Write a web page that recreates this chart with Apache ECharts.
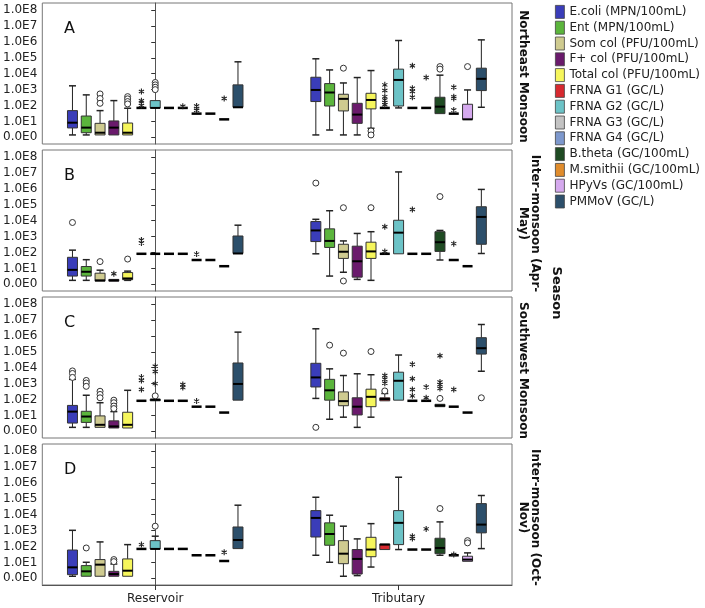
<!DOCTYPE html>
<html><head><meta charset="utf-8">
<script src="https://cdn.jsdelivr.net/npm/echarts@6/dist/echarts.min.js"></script>
<style>html,body{margin:0;padding:0;background:#fff}#c{width:705px;height:608px}</style>
</head><body><div id="c"></div>
<script>
// ---------- data (values in log10 units; 0 = 0.0E0) ----------
const categories = ['Reservoir', 'Tributary'];
const seriesNames = ['E.coli (MPN/100mL)', 'Ent (MPN/100mL)', 'Som col (PFU/100mL)', 'F+ col (PFU/100mL)',
  'Total col (PFU/100mL)', 'FRNA G1 (GC/L)', 'FRNA G2 (GC/L)', 'FRNA G3 (GC/L)', 'FRNA G4 (GC/L)',
  'B.theta (GC/100mL)', 'M.smithii (GC/100mL)', 'HPyVs (GC/100mL)', 'PMMoV (GC/L)'];
const seriesColors = ['#3a3db9', '#5bb53c', '#cfcb90', '#6a1a6c', '#f6f65c', '#d7292f', '#6cc3c7',
  '#c3c3c3', '#7d98cd', '#1f4b23', '#e08c2c', '#d5a9ee', '#2c4f6b'];
const yTicks = [0, 1, 2, 3, 4, 5, 6, 7, 8];
const panelLetters = ['A', 'B', 'C', 'D'];
const seasonLabels = ['Northeast Monsoon', 'Inter-monsoon (Apr-\nMay)', 'Southwest Monsoon', 'Inter-monsoon (Oct-\nNov)'];

// box stats per series: [min, Q1, median, Q3, max]
const A_res = [[0.15,0.59,0.92,1.68,3.24],[0.15,0.29,0.61,1.34,2.67],[0.15,0.15,0.29,0.88,1.68],[0.15,0.15,0.61,1.03,2.31],
  [0.15,0.15,0.29,0.90,1.83],[1.85,1.85,1.85,1.85,1.85],[1.85,1.85,1.85,2.31,2.31],[1.85,1.85,1.85,1.85,1.85],
  [1.85,1.85,1.85,1.85,1.85],[1.49,1.49,1.49,1.49,1.49],[1.49,1.49,1.49,1.49,1.49],[1.13,1.13,1.13,1.13,1.13],
  [1.89,1.89,1.89,3.30,4.75]];
const A_trib = [[0.15,2.25,2.98,3.78,4.94],[0.46,1.97,2.82,3.38,4.24],[0.15,1.66,2.42,2.71,3.42],[0.15,0.88,1.43,2.14,3.76],
  [0.57,1.79,2.35,2.77,4.20],[1.85,1.85,1.85,1.85,1.85],[1.85,1.97,3.61,4.29,6.09],[1.85,1.85,1.85,1.85,1.85],
  [1.85,1.85,1.85,1.85,1.85],[1.49,1.49,1.93,2.52,3.91],[1.49,1.49,1.49,1.49,1.49],[1.13,1.13,1.13,2.08,2.98],
  [1.89,2.94,3.68,4.35,6.13]];
const B_res = [[0.25,0.52,0.91,1.70,2.15],[0.25,0.52,0.79,1.12,1.55],[0.20,0.20,0.25,0.70,0.89],[0.20,0.20,0.25,0.31,0.31],
  [0.25,0.29,0.37,0.74,0.83],[1.92,1.92,1.92,1.92,1.92],[1.92,1.92,1.92,1.92,1.92],[1.92,1.92,1.92,1.92,1.92],
  [1.92,1.92,1.92,1.92,1.92],[1.53,1.53,1.53,1.53,1.53],[1.53,1.53,1.53,1.53,1.53],[1.14,1.14,1.14,1.14,1.14],
  [1.94,1.94,1.94,3.04,3.72]];
const B_trib = [[1.92,2.69,3.39,3.95,4.09],[0.52,2.32,2.73,3.49,4.63],[0.76,1.63,2.05,2.52,2.73],[0.31,0.45,1.45,2.40,3.20],
  [0.25,1.63,2.07,2.65,3.31],[1.92,1.92,1.92,1.92,1.92],[1.92,1.92,3.25,4.03,7.07],[1.92,1.92,1.92,1.92,1.92],
  [1.92,1.92,1.92,1.92,1.92],[1.53,2.07,2.65,3.31,3.39],[1.53,1.53,1.53,1.53,1.53],[1.14,1.14,1.14,1.14,1.14],
  [1.94,2.52,4.24,4.88,5.97]];
const C_res = [[0.25,0.52,1.24,1.63,3.27],[0.25,0.56,0.93,1.26,2.27],[0.25,0.25,0.41,0.97,1.80],[0.21,0.21,0.31,0.66,1.24],
  [0.21,0.21,0.41,1.20,2.58],[1.92,1.92,1.92,1.92,1.92],[1.92,1.92,1.98,2.03,2.03],[1.92,1.92,1.92,1.92,1.92],
  [1.92,1.92,1.92,1.92,1.92],[1.55,1.55,1.55,1.55,1.55],[1.55,1.55,1.55,1.55,1.55],[1.18,1.18,1.18,1.18,1.18],
  [1.96,1.96,2.98,4.30,6.24]];
const C_trib = [[2.07,2.79,3.39,4.28,6.45],[0.76,1.96,2.58,3.27,3.93],[0.89,1.61,1.90,2.48,3.51],[0.25,1.03,1.55,2.11,3.62],
  [0.89,1.55,2.17,2.65,3.56],[1.92,1.92,2.03,2.11,2.38],[1.96,1.96,3.18,3.72,4.80],[1.92,1.92,1.92,1.92,1.92],
  [1.92,1.92,1.92,1.92,1.92],[1.55,1.55,1.62,1.70,1.70],[1.55,1.55,1.55,1.55,1.55],[1.18,1.18,1.18,1.18,1.18],
  [3.78,4.86,5.23,5.89,6.72]];
const D_res = [[0.13,0.23,0.69,1.78,3.02],[0.13,0.13,0.44,0.80,1.01],[0.13,0.13,0.86,1.18,2.29],[0.13,0.13,0.27,0.44,0.90],
  [0.13,0.13,0.48,1.22,2.12],[1.85,1.85,1.85,1.85,1.85],[1.85,1.85,1.85,2.37,2.65],[1.85,1.85,1.85,1.85,1.85],
  [1.85,1.85,1.85,1.85,1.85],[1.45,1.45,1.45,1.45,1.45],[1.45,1.45,1.45,1.45,1.45],[1.09,1.09,1.09,1.09,1.09],
  [1.87,1.87,2.41,3.23,4.60]];
const D_trib = [[1.45,2.60,3.80,4.26,5.10],[1.01,2.08,2.79,3.49,3.97],[0.13,0.92,1.55,2.37,3.28],[0.17,0.27,1.22,1.81,2.48],
  [0.71,1.36,1.81,2.58,3.44],[1.81,1.81,2.12,2.16,2.16],[1.81,2.12,3.49,4.26,6.36],[1.81,1.81,1.81,1.81,1.81],
  [1.81,1.81,1.81,1.81,1.81],[1.45,1.55,1.91,2.52,3.55],[1.45,1.45,1.45,1.45,1.45],[1.07,1.07,1.18,1.39,1.60],
  [1.87,2.86,3.38,4.70,5.21]];

// outliers: [series index, value, 'o' = outlier circle, '*' = extreme]
const A_res_out = [[2,2.73,'o'],[2,2.44,'o'],[2,2.14,'o'],[4,2.56,'o'],[4,2.42,'o'],[4,2.25,'o'],[4,2.10,'o'],
  [5,2.88,'*'],[5,2.30,'*'],[5,2.15,'*'],[5,2.00,'*'],[6,3.45,'o'],[6,3.30,'o'],[6,3.15,'o'],[6,3.00,'o'],
  [8,1.95,'*'],[9,1.97,'*'],[9,1.82,'*'],[9,1.70,'*'],[11,2.44,'*']];
const A_trib_out = [[2,4.35,'o'],[4,0.40,'o'],[4,0.15,'o'],[5,3.30,'*'],[5,2.94,'*'],[5,2.56,'*'],[5,2.35,'*'],
  [5,2.20,'*'],[5,2.05,'*'],[7,4.50,'*'],[7,3.09,'*'],[7,2.88,'*'],[7,2.52,'*'],[8,3.76,'*'],[9,4.45,'o'],
  [9,4.29,'o'],[10,3.15,'*'],[10,2.56,'*'],[10,2.45,'*'],[10,1.72,'*'],[11,4.45,'o']];
const B_res_out = [[0,3.89,'o'],[2,1.43,'o'],[3,0.66,'*'],[4,1.59,'o'],[5,2.79,'*'],[5,2.60,'*'],[9,1.90,'*']];
const B_trib_out = [[0,6.37,'o'],[2,4.82,'o'],[2,0.21,'o'],[4,4.82,'o'],[5,3.62,'*'],[5,2.07,'*'],[7,4.71,'*'],
  [9,5.52,'o'],[10,2.56,'*']];
const C_res_out = [[0,3.80,'o'],[0,3.64,'o'],[0,3.39,'o'],[1,3.20,'o'],[1,3.04,'o'],[1,2.83,'o'],[2,2.52,'o'],
  [2,2.32,'o'],[2,2.11,'o'],[3,1.96,'o'],[3,1.80,'o'],[3,1.59,'o'],[3,1.43,'o'],[5,3.41,'*'],[5,3.20,'*'],
  [5,2.63,'*'],[6,2.23,'o'],[6,4.09,'*'],[6,3.76,'*'],[6,3.00,'*'],[8,2.94,'*'],[8,2.75,'*'],[9,1.90,'*']];
const C_trib_out = [[0,0.25,'o'],[1,5.42,'o'],[2,4.92,'o'],[4,5.02,'o'],[5,2.54,'o'],[5,3.51,'*'],[5,3.27,'*'],
  [5,3.02,'*'],[7,4.22,'*'],[7,3.31,'*'],[7,2.63,'*'],[7,2.23,'*'],[8,2.79,'*'],[8,2.11,'*'],[9,4.75,'*'],
  [9,3.10,'*'],[9,2.94,'*'],[9,2.69,'*'],[9,2.07,'o'],[10,2.63,'*'],[12,2.11,'o']];
const D_res_out = [[1,1.91,'o'],[3,1.18,'o'],[3,1.05,'o'],[5,2.12,'*'],[6,3.28,'o'],[11,1.64,'*']];
const D_trib_out = [[7,2.65,'*'],[7,2.50,'*'],[8,3.11,'*'],[9,4.39,'o'],[10,1.50,'*'],[11,2.37,'o'],[11,2.23,'o']];

// ---------- build chart ----------
const panels = [
  {res: A_res, trib: A_trib, resOut: A_res_out, tribOut: A_trib_out},
  {res: B_res, trib: B_trib, resOut: B_res_out, tribOut: B_trib_out},
  {res: C_res, trib: C_trib, resOut: C_res_out, tribOut: C_trib_out},
  {res: D_res, trib: D_trib, resOut: D_res_out, tribOut: D_trib_out}
];
const FONT = 'DejaVu Sans';
const UNIT_PX = 243.5;            // reference spacing between categories
const SPACING = 13.8 / UNIT_PX;   // box-to-box step as fraction of category unit
const BOXW = 10 / UNIT_PX;
const CAPW = 7 / UNIT_PX;
const NMID = (seriesNames.length - 1) / 2;

function boxRender(sIdx) {
  return function (params, api) {
    const cat = api.value(0);
    const unit = api.size([1, 0])[0];
    const hw = BOXW * unit / 2, cw = CAPW * unit / 2;
    const x = api.coord([cat, 0])[0] + (sIdx - NMID) * SPACING * unit;
    const Y = v => api.coord([cat, v])[1];
    const mn = api.value(1), q1 = api.value(2), md = api.value(3), q3 = api.value(4), mx = api.value(5);
    const ls = {stroke: '#222', lineWidth: 1};
    const ch = [];
    if (mn < q1) {
      ch.push({type: 'line', shape: {x1: x, y1: Y(mn), x2: x, y2: Y(q1)}, style: ls});
      ch.push({type: 'line', shape: {x1: x - cw, y1: Y(mn), x2: x + cw, y2: Y(mn)}, style: {stroke: '#222', lineWidth: 1.5}});
    }
    if (mx > q3) {
      ch.push({type: 'line', shape: {x1: x, y1: Y(q3), x2: x, y2: Y(mx)}, style: ls});
      ch.push({type: 'line', shape: {x1: x - cw, y1: Y(mx), x2: x + cw, y2: Y(mx)}, style: {stroke: '#222', lineWidth: 1.5}});
    }
    if (q3 > q1) {
      ch.push({type: 'rect', shape: {x: x - hw, y: Y(q3), width: 2 * hw, height: Y(q1) - Y(q3)},
        style: {fill: seriesColors[sIdx], stroke: '#333', lineWidth: 1}});
    }
    ch.push({type: 'line', shape: {x1: x - hw, y1: Y(md), x2: x + hw, y2: Y(md)},
      style: {stroke: '#000', lineWidth: q3 > q1 ? 2 : 2.5}});
    return {type: 'group', children: ch};
  };
}

function outRender(params, api) {
  const cat = api.value(0), v = api.value(1), sIdx = api.value(2), kind = api.value(3);
  const unit = api.size([1, 0])[0];
  const p = api.coord([cat, v]);
  const x = p[0] + (sIdx - NMID) * SPACING * unit, y = p[1];
  if (kind === 0) {
    return {type: 'circle', shape: {cx: x, cy: y, r: 3}, style: {fill: '#fff', stroke: '#333', lineWidth: 1}};
  }
  return {type: 'path', x: x, y: y,
    shape: {pathData: 'M0,-3L0,3M-2.6,-1.5L2.6,1.5M-2.6,1.5L2.6,-1.5'},
    style: {fill: null, stroke: '#222', lineWidth: 1.1}};
}

const grids = [], xAxes = [], yAxes = [], series = [], graphics = [];
const gTop = i => 3 + i * 147, gH = 141;
panels.forEach((p, i) => {
  const last = i === panels.length - 1;
  grids.push({left: 42, width: 470, top: gTop(i), height: gH, show: true, borderColor: '#777', borderWidth: 1, backgroundColor: '#fff'});
  xAxes.push({type: 'value', gridIndex: i, min: -0.464, max: 1.466,
    axisLine: {show: last, onZero: false, lineStyle: {color: '#555'}},
    axisTick: {show: last, customValues: [0, 1], length: 5, lineStyle: {color: '#333'}},
    axisLabel: {show: last, customValues: [0, 1], formatter: v => categories[Math.round(v)] || '',
      fontFamily: FONT, fontSize: 12, color: '#222', margin: 8},
    splitLine: {show: false}});
  yAxes.push({type: 'value', gridIndex: i, min: -0.42, max: 8.45,
    axisLine: {show: true, lineStyle: {color: '#555'}},
    axisTick: {show: true, customValues: yTicks, length: 4, lineStyle: {color: '#333'}},
    axisLabel: {customValues: yTicks, formatter: v => (v === 0 ? '0.0E0' : '1.0E' + v),
      fontFamily: FONT, fontSize: 12, color: '#222', margin: 5},
    splitLine: {show: false}});
  seriesNames.forEach((name, s) => {
    series.push({type: 'custom', name: name, xAxisIndex: i, yAxisIndex: i,
      itemStyle: {color: seriesColors[s]},
      renderItem: boxRender(s), encode: {x: 0, y: [1, 2, 3, 4, 5]},
      data: [[0].concat(p.res[s]), [1].concat(p.trib[s])]});
  });
  const outData = p.resOut.map(o => [0, o[1], o[0], o[2] === 'o' ? 0 : 1])
    .concat(p.tribOut.map(o => [1, o[1], o[0], o[2] === 'o' ? 0 : 1]));
  series.push({type: 'custom', name: 'outliers' + i, xAxisIndex: i, yAxisIndex: i, z: 3,
    renderItem: outRender, encode: {x: 0, y: 1}, data: outData});
  graphics.push({type: 'text', x: 64, y: gTop(i) + 18,
    style: {text: panelLetters[i], font: '16px ' + FONT, fill: '#111'}});
  const twoLine = seasonLabels[i].indexOf('\n') >= 0;
  graphics.push({type: 'text', x: twoLine ? 529 : 523, y: gTop(i) + gH / 2 + 3, rotation: -Math.PI / 2,
    style: {text: seasonLabels[i], font: 'bold 12px ' + FONT, fill: '#111', align: 'center', verticalAlign: 'middle', lineHeight: 12}});
});
graphics.push({type: 'text', x: 556, y: 293, rotation: -Math.PI / 2,
  style: {text: 'Season', font: 'bold 13px ' + FONT, fill: '#111', align: 'center', verticalAlign: 'middle'}});

const chart = echarts.init(document.getElementById('c'), null, {renderer: 'canvas'});
chart.setOption({
  animation: false,
  backgroundColor: '#fff',
  grid: grids, xAxis: xAxes, yAxis: yAxes, series: series, graphic: graphics,
  legend: {orient: 'vertical', left: 555, top: 5, itemWidth: 9, itemHeight: 13, itemGap: 2, padding: 0,
    selectedMode: false, textStyle: {fontFamily: FONT, fontSize: 12, color: '#222'},
    data: seriesNames.map((n, s) => ({name: n, icon: 'rect',
      itemStyle: {color: seriesColors[s], borderColor: '#444', borderWidth: 0.8}}))}
});
</script></body></html>
